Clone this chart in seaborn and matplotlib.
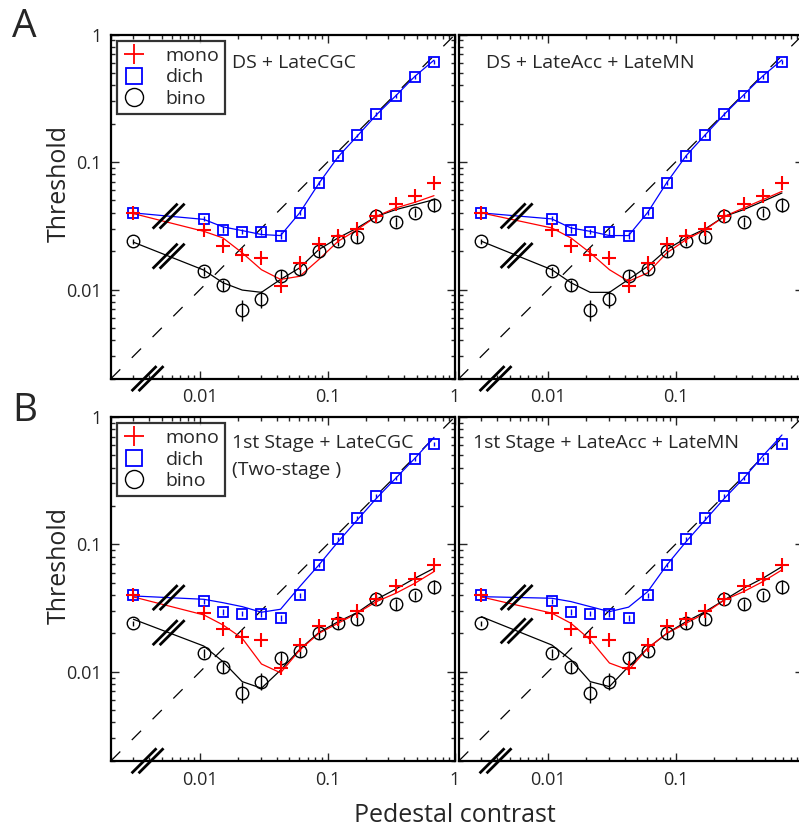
import numpy as np
import pandas as pd
import matplotlib
matplotlib.use("Agg")
import matplotlib.pyplot as plt
import seaborn as sns
from matplotlib.lines import Line2D
from matplotlib.ticker import FixedLocator, LogLocator, NullFormatter

sns.set_style("ticks")
plt.rcParams['font.family'] = ['Open Sans', 'DejaVu Sans']

# pedestal contrasts (first point = zero pedestal, drawn left of the axis break)
pedestal = [0.0030, 0.0107, 0.0151, 0.0214, 0.0303, 0.0428, 0.0605,
            0.0855, 0.121, 0.171, 0.242, 0.342, 0.484, 0.684]

# measured thresholds
mono = [0.0399, 0.0291, 0.0218, 0.0187, 0.0176, 0.0107, 0.0162,
        0.0229, 0.0261, 0.0299, 0.0375, 0.0469, 0.0538, 0.0685]
dich = [0.0399, 0.0358, 0.0295, 0.0284, 0.0284, 0.0265, 0.0399,
        0.0685, 0.1106, 0.1616, 0.2376, 0.330, 0.468, 0.613]
bino = [0.0239, 0.0139, 0.0108, 0.00685, 0.00835, 0.0127, 0.0145,
        0.0200, 0.0239, 0.0259, 0.0375, 0.0337, 0.0399, 0.0463]
# error bars, log10 units
dich_err = [0.02, 0.02, 0.025, 0.02, 0.025, 0.025, 0.02,
            0.015, 0.015, 0.015, 0.015, 0.015, 0.015, 0.015]
bino_err = [0.02, 0.035, 0.045, 0.08, 0.065, 0.05, 0.045,
            0.045, 0.04, 0.05, 0.03, 0.04, 0.035, 0.055]

# model fits, panel A left: DS + LateCGC
a1_mono = [0.0394, 0.0286, 0.0254, 0.0194, 0.0143, 0.0120, 0.0127,
           0.0172, 0.0239, 0.0295, 0.0375, 0.0436, 0.0483, 0.0545]
a1_dich = [0.0399, 0.0355, 0.031, 0.029, 0.027, 0.0265, 0.040,
           0.068, 0.110, 0.160, 0.235, 0.330, 0.470, 0.630]
a1_bino = [0.0235, 0.0142, 0.0113, 0.0099, 0.0095, 0.0120, 0.0148,
           0.0206, 0.0254, 0.0304, 0.0375, 0.0423, 0.0463, 0.0507]

# panel A right: DS + LateAcc + LateMN
a2_mono = [0.0399, 0.0304, 0.0254, 0.0194, 0.0143, 0.0116, 0.0135,
           0.0194, 0.0246, 0.0295, 0.0375, 0.0436, 0.0507, 0.0589]
a2_dich = [0.0399, 0.0358, 0.0304, 0.0286, 0.0265, 0.0265, 0.0403,
           0.0692, 0.112, 0.1637, 0.2376, 0.336, 0.474, 0.633]
a2_bino = [0.0239, 0.0143, 0.0113, 0.0095, 0.0095, 0.0120, 0.0152,
           0.0206, 0.0254, 0.0299, 0.0375, 0.0423, 0.0491, 0.0572]

# panel B left: 1st Stage + LateCGC (two-stage)
b1_mono = [0.0386, 0.0279, 0.0233, 0.0183, 0.0115, 0.0098, 0.0148,
           0.0200, 0.0240, 0.0288, 0.0355, 0.0412, 0.0494, 0.0610]
b1_dich = [0.0393, 0.0370, 0.0348, 0.0324, 0.0293, 0.0309, 0.0465,
           0.0688, 0.1046, 0.155, 0.2295, 0.329, 0.472, 0.690]
b1_bino = [0.0258, 0.0159, 0.0120, 0.00836, 0.00742, 0.0103, 0.0150,
           0.0203, 0.0247, 0.0291, 0.0370, 0.0444, 0.0541, 0.0648]

# panel B right: 1st Stage + LateAcc + LateMN
b2_mono = [0.0386, 0.0288, 0.0240, 0.0178, 0.0117, 0.0103, 0.0153,
           0.0200, 0.0240, 0.0288, 0.0366, 0.0425, 0.0509, 0.0629]
b2_dich = [0.0388, 0.0377, 0.0355, 0.0324, 0.0296, 0.0321, 0.0425,
           0.0688, 0.1048, 0.155, 0.2295, 0.329, 0.493, 0.720]
b2_bino = [0.0270, 0.0162, 0.0124, 0.00836, 0.00764, 0.0110, 0.0153,
           0.0200, 0.0247, 0.0296, 0.0366, 0.0452, 0.0541, 0.0667]

panels = [
    ("DS + LateCGC", "", a1_mono, a1_dich, a1_bino),
    ("DS + LateAcc + LateMN", "", a2_mono, a2_dich, a2_bino),
    ("1st Stage + LateCGC", "(Two-stage )", b1_mono, b1_dich, b1_bino),
    ("1st Stage + LateAcc + LateMN", "", b2_mono, b2_dich, b2_bino),
]

W, H = 799, 832
fig = plt.figure(figsize=(W / 100, H / 100), dpi=100)

AX_W = 344
lefts = [111, 459]
tops = [34.6, 416.8]
DEC = 127.7  # pixels per decade


def break_mark(ax, x, y, clip=True):
    # two short thick slashes at 45 degrees, sized in pixels through the log scale
    d = 12.5 / DEC
    for sh in (-3.5 / DEC, 3.5 / DEC):
        xs = [x * 10 ** (sh - d), x * 10 ** (sh + d)]
        ys = [y * 10 ** (-d), y * 10 ** d]
        ax.plot(xs, ys, color='black', lw=2.0, clip_on=clip, zorder=6,
                solid_capstyle='butt')


def logerr(vals, errs):
    v = np.array(vals)
    e = np.array(errs)
    return [v - v * 10 ** (-e), v * 10 ** e - v]


for i, (title, sub, fmono, fdich, fbino) in enumerate(panels):
    row, col = divmod(i, 2)
    l, t = lefts[col], tops[row]
    ax = fig.add_axes([l / W, 1 - (t + AX_W) / H, AX_W / W, AX_W / H])
    ax.set_xscale('log')
    ax.set_yscale('log')
    ax.set_xlim(0.002, 1)
    ax.set_ylim(0.002, 1)

    ax.plot([0.002, 1], [0.002, 1], color='black', lw=0.9,
            linestyle=(0, (10.5, 13)), zorder=1)

    fits = pd.DataFrame({'pedestal': pedestal, 'mono': fmono,
                         'dich': fdich, 'bino': fbino})
    for name, c in (('bino', 'black'), ('dich', 'blue'), ('mono', 'red')):
        sns.lineplot(data=fits, x='pedestal', y=name, ax=ax, color=c,
                     lw=0.9, estimator=None, sort=False, zorder=3)

    ax.errorbar(pedestal, bino, yerr=logerr(bino, bino_err), fmt='o',
                mfc='none', mec='black', ms=9, mew=1.0, ecolor='black',
                elinewidth=1.0, capsize=0, zorder=4)
    ax.errorbar(pedestal, dich, yerr=logerr(dich, dich_err), fmt='s',
                mfc='none', mec='blue', ms=7.5, mew=1.3, ecolor='blue',
                elinewidth=1.0, capsize=0, zorder=4)
    ax.plot(pedestal, mono, '+', color='red', ms=10, mew=1.5, zorder=5)

    # axis breaks between zero pedestal and the rest
    xb = np.sqrt(pedestal[0] * pedestal[1])
    yb_up = np.sqrt(fdich[0] * fdich[1])
    yb_lo = np.sqrt(fbino[0] * fbino[1])
    break_mark(ax, xb, yb_up)
    break_mark(ax, xb, yb_lo)
    break_mark(ax, 0.00387, 0.002, clip=False)

    ax.xaxis.set_major_locator(FixedLocator([0.001, 0.01, 0.1, 1]))
    ax.yaxis.set_major_locator(FixedLocator([0.001, 0.01, 0.1, 1]))
    ax.xaxis.set_minor_locator(LogLocator(base=10, subs=np.arange(2, 10)))
    ax.yaxis.set_minor_locator(LogLocator(base=10, subs=np.arange(2, 10)))
    ax.xaxis.set_minor_formatter(NullFormatter())
    ax.yaxis.set_minor_formatter(NullFormatter())
    ax.set_xticklabels(['0.001', '0.01', '0.1', '1'])
    if col == 0:
        ax.set_yticklabels(['0.001', '0.01', '0.1', '1'])
    else:
        ax.set_yticklabels([])
    ax.tick_params(which='both', direction='in', top=True, right=True,
                   labelsize=13, width=1.0)
    ax.tick_params(which='major', length=6, pad=7)
    ax.tick_params(which='minor', length=3)
    for s in ax.spines.values():
        s.set_linewidth(1.6)
        s.set_color('black')
    ax.set_xlabel('')
    ax.set_ylabel('')

    tx = (232 - 111) / AX_W if col == 0 else (0.078 if row == 0 else 0.042)
    ty = 0.918 if row == 0 else 0.923
    ax.text(tx, ty, title, transform=ax.transAxes, fontsize=14,
            ha='left', va='center')
    if sub:
        ax.text(tx, 0.845, sub, transform=ax.transAxes, fontsize=14,
                ha='left', va='center')

    if col == 0:
        handles = [
            Line2D([], [], ls='none', marker='+', color='red', ms=14, mew=1.3),
            Line2D([], [], ls='none', marker='s', mfc='none', mec='blue',
                   ms=11, mew=1.3),
            Line2D([], [], ls='none', marker='o', mfc='none', mec='black',
                   ms=13, mew=1.0),
        ]
        leg = ax.legend(handles, ['mono', 'dich', 'bino'], loc='upper left',
                        bbox_to_anchor=(0.017, 0.981), borderaxespad=0,
                        fontsize=14, frameon=True, fancybox=False,
                        handlelength=1.2, handletextpad=1.0,
                        labelspacing=0.18, borderpad=0.3)
        leg.get_frame().set_edgecolor('black')
        leg.get_frame().set_linewidth(1.6)
        leg.set_zorder(10)

        fig.text(59 / W, 1 - (t + 149) / H, 'Threshold', rotation=90,
                 fontsize=18, ha='center', va='center')

fig.text(12 / W, 1 - 8 / H, 'A', fontsize=28, ha='left', va='top')
fig.text(12 / W, 1 - 392 / H, 'B', fontsize=28, ha='left', va='top')
fig.text(455 / W, 1 - 815 / H, 'Pedestal contrast', fontsize=18,
         ha='center', va='center')

fig.savefig('out.png', dpi=100)
